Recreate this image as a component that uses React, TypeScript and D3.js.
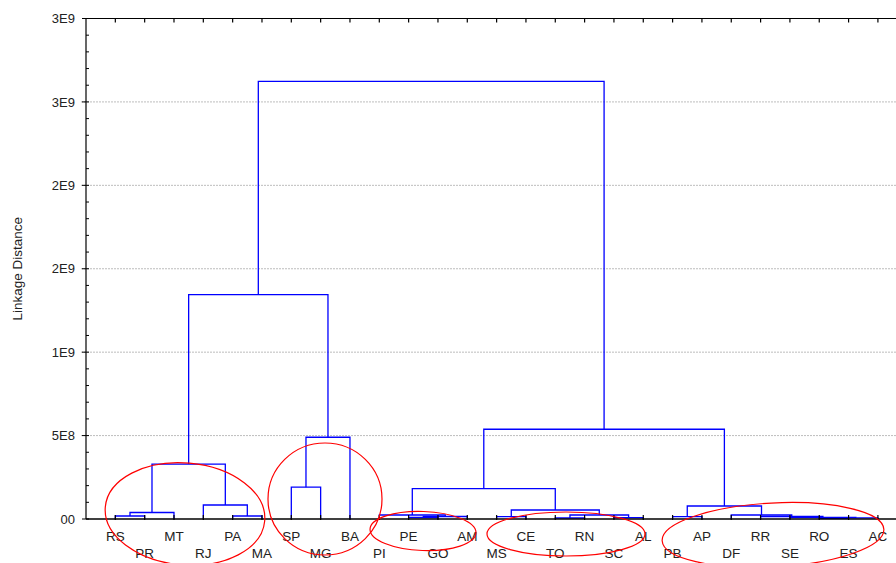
import React from "react";
import * as d3 from "d3";

const leaves = ["RS","PR","MT","RJ","PA","MA","SP","MG","BA","PI","PE","GO","AM","MS","CE","TO","RN","SC","AL","PB","AP","DF","RR","SE","RO","ES","AC"];

// linkage: [id, left, right, height]
const linkage: [string, string, string, number][] = [
  ["m1", "RS", "PR", 1.8e7],
  ["m2", "m1", "MT", 3.9e7],
  ["m3", "PA", "MA", 1.8e7],
  ["m4", "RJ", "m3", 8.4e7],
  ["m5", "m2", "m4", 3.29e8],
  ["m6", "SP", "MG", 1.91e8],
  ["m7", "m6", "BA", 4.9e8],
  ["m8", "m5", "m7", 1.345e9],
  ["m9", "PE", "GO", 0.9e7],
  ["m10", "m9", "AM", 1.5e7],
  ["m11", "PI", "m10", 2.4e7],
  ["m12", "MS", "CE", 1.4e7],
  ["m13", "TO", "RN", 0.6e7],
  ["m14", "SC", "AL", 0.8e7],
  ["m15", "m13", "m14", 2.4e7],
  ["m16", "m12", "m15", 5.4e7],
  ["m17", "m11", "m16", 1.82e8],
  ["m18", "PB", "AP", 1.4e7],
  ["m19", "RO", "ES", 0.4e7],
  ["m20", "m19", "AC", 0.7e7],
  ["m21", "SE", "m20", 1.0e7],
  ["m22", "RR", "m21", 1.5e7],
  ["m23", "DF", "m22", 2.4e7],
  ["m24", "m18", "m23", 7.8e7],
  ["m25", "m17", "m24", 5.38e8],
  ["m26", "m8", "m25", 2.623e9],
];

const yTickValues = [0, 5e8, 1e9, 1.5e9, 2e9, 2.5e9, 3e9];
const yTickLabels = ["00", "5E8", "1E9", "2E9", "2E9", "3E9", "3E9"];

// annotation ellipses: [cx, cy, rx, ry, rotation]
const ellipses: [number, number, number, number, number][] = [
  [185, 514, 80, 51, 5],
  [325, 499, 57, 56, 0],
  [423, 531, 53, 19.5, 2],
  [566, 534, 79, 22, 0],
  [773, 535, 111, 32, -3],
];

const W = 896, H = 563;
const left = 86, top = 18.5, bottom = 519;
const font = "'Liberation Sans', Arial, sans-serif";

export default function App() {
  const x = d3.scaleLinear().domain([-1, leaves.length]).range([left, left + 28 * 29.33]);
  const y = d3.scaleLinear().domain([0, 3e9]).range([bottom, top]);

  const pos: Record<string, { x: number; h: number }> = {};
  leaves.forEach((l, i) => (pos[l] = { x: x(i), h: 0 }));
  const paths: string[] = [];
  linkage.forEach(([id, a, b, h]) => {
    const pa = pos[a], pb = pos[b];
    const p = d3.path();
    p.moveTo(pa.x, y(pa.h));
    p.lineTo(pa.x, y(h));
    p.lineTo(pb.x, y(h));
    p.lineTo(pb.x, y(pb.h));
    paths.push(p.toString());
    pos[id] = { x: (pa.x + pb.x) / 2, h };
  });

  const minor = d3.range(0, 3e9 + 1, 1e8);

  return (
    <svg width={W} height={H} style={{ position: "absolute", left: 0, top: 0, background: "#fff" }}>
      {/* gridlines */}
      {yTickValues.slice(1, -1).map((v) => (
        <line key={"g" + v} x1={left - 5} x2={W} y1={y(v)} y2={y(v)} stroke="#bdbdbd" strokeWidth={1} strokeDasharray="2,1" />
      ))}
      {/* dendrogram */}
      {paths.map((d, i) => (
        <path key={i} d={d} fill="none" stroke="#0000ff" strokeWidth={1.3} />
      ))}
      {/* axes */}
      <line x1={left} x2={left} y1={top} y2={bottom} stroke="#000" strokeWidth={1.2} />
      <line x1={left} x2={W} y1={bottom} y2={bottom} stroke="#000" strokeWidth={1.3} />
      <line x1={left} x2={W} y1={top} y2={top} stroke="#000" strokeWidth={1.2} />
      {minor.map((v) => (
        <line key={"m" + v} x1={left} x2={left + 3} y1={y(v)} y2={y(v)} stroke="#000" strokeWidth={1} />
      ))}
      {yTickValues.map((v) => (
        <line key={"t" + v} x1={left - 4} x2={left} y1={y(v)} y2={y(v)} stroke="#000" strokeWidth={1} />
      ))}
      {leaves.map((l, i) => (
        <g key={"xt" + l}>
          <line x1={x(i)} x2={x(i)} y1={bottom - 4} y2={bottom + 1} stroke="#000" strokeWidth={1.2} />
          <line x1={x(i)} x2={x(i)} y1={top} y2={top + 4} stroke="#000" strokeWidth={1.2} />
        </g>
      ))}
      {/* y tick labels */}
      {yTickValues.map((v, i) => (
        <text key={"yl" + v} x={75} y={y(v)} dy="0.36em" textAnchor="end" fontFamily={font} fontSize={13} fill="#222">
          {yTickLabels[i]}
        </text>
      ))}
      {/* leaf labels */}
      {leaves.map((l, i) => (
        <text key={"ll" + l} x={x(i)} y={i % 2 === 0 ? 541 : 558} textAnchor="middle" fontFamily={font} fontSize={13.5} fill="#222">
          {l}
        </text>
      ))}
      <text transform={`translate(22,${(top + bottom) / 2}) rotate(-90)`} textAnchor="middle" fontFamily={font} fontSize={13.5} fill="#222">
        Linkage Distance
      </text>
      {/* annotation ellipses */}
      {ellipses.map(([cx, cy, rx, ry, r], i) => (
        <ellipse key={"e" + i} cx={cx} cy={cy} rx={rx} ry={ry} transform={`rotate(${r},${cx},${cy})`} fill="none" stroke="#ff0000" strokeWidth={1.2} />
      ))}
    </svg>
  );
}
